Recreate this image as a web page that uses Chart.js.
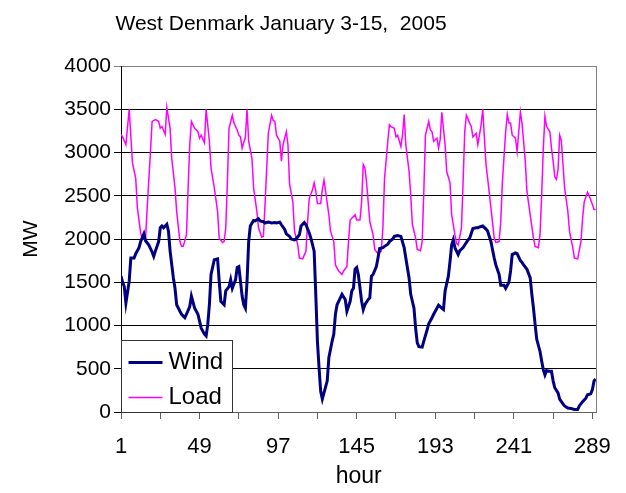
<!DOCTYPE html>
<html>
<head>
<meta charset="utf-8">
<title>West Denmark January 3-15, 2005</title>
<script src="https://cdn.jsdelivr.net/npm/chart.js@4/dist/chart.umd.min.js"></script>
<style>
  html, body { margin: 0; padding: 0; background: #fff; }
  canvas { display: block; }
</style>
</head>
<body>
<canvas id="chart" width="626" height="493"></canvas>
<script>
const chartTitle = "West Denmark January 3-15,  2005";
const xTickHours = [1, 25, 49, 73, 97, 121, 145, 169, 193, 217, 241, 265, 289];
const xLabelHours = [1, 49, 97, 145, 193, 241, 289];

// wind production (hour, MW)
const windHours = [1, 2, 3, 4, 6, 7, 9, 10, 12, 13, 15, 16, 18, 20, 21, 22, 24, 25, 26, 27,
  29, 30, 31, 33, 34, 35, 37, 38, 40, 41, 43, 44, 46, 48, 49, 50, 52, 53, 54, 55,
  56, 58, 60, 61, 62, 64, 65, 67, 68, 69, 71, 72, 73, 75, 76, 77, 78, 79, 80, 82,
  83, 85, 86, 88, 89, 91, 93, 95, 96, 98, 99, 101, 102, 104, 105, 107, 108, 110, 111, 113,
  114, 116, 117, 119, 120, 121, 122, 123, 124, 125, 127, 128, 130, 131, 132, 133, 135, 136, 138, 139,
  141, 142, 143, 144, 145, 146, 148, 149, 150, 152, 153, 154, 155, 157, 158, 159, 161, 162, 164, 165,
  167, 168, 170, 172, 174, 175, 177, 178, 180, 181, 182, 183, 185, 186, 188, 189, 191, 192, 194, 195,
  197, 198, 199, 201, 202, 203, 204, 205, 207, 208, 210, 211, 213, 214, 216, 218, 219, 221, 222, 224,
  225, 227, 229, 230, 232, 233, 235, 236, 238, 239, 240, 242, 243, 245, 246, 247, 249, 251, 252, 253,
  254, 255, 257, 258, 259, 260, 261, 263, 264, 265, 266, 268, 269, 271, 272, 274, 276, 278, 280, 281,
  283, 285, 286, 288, 289, 290, 291];
const windMW = [1570, 1500, 1450, 1260, 1510, 1780, 1780, 1830, 1900, 1970, 2060, 1980, 1930, 1850, 1800, 1860, 1970, 2130, 2150, 2130,
  2170, 2090, 1860, 1550, 1430, 1240, 1165, 1130, 1090, 1130, 1220, 1340, 1200, 1130, 1050, 970, 900, 880, 1010, 1240,
  1590, 1760, 1770, 1510, 1280, 1240, 1400, 1450, 1530, 1430, 1530, 1670, 1680, 1340, 1240, 1200, 1510, 1970, 2150, 2215,
  2210, 2234, 2210, 2200, 2185, 2195, 2185, 2190, 2185, 2195, 2165, 2110, 2060, 2030, 2000, 1990, 2000, 2050, 2150, 2190,
  2165, 2070, 2010, 1860, 1360, 820, 510, 240, 150, 220, 360, 630, 820, 900, 1130, 1240, 1320, 1360, 1300, 1165,
  1280, 1400, 1430, 1650, 1670, 1590, 1280, 1184, 1240, 1300, 1320, 1570, 1590, 1680, 1780, 1890, 1900, 1915, 1940, 1970,
  2000, 2030, 2040, 2030, 1900, 1780, 1550, 1360, 1200, 970, 800, 755, 750, 820, 950, 1020, 1090, 1130, 1200, 1235,
  1200, 1185, 1400, 1570, 1740, 1930, 1990, 1900, 1820, 1865, 1900, 1930, 1990, 2010, 2120, 2130, 2130, 2145, 2150, 2115,
  2090, 1970, 1780, 1700, 1590, 1465, 1465, 1430, 1500, 1630, 1820, 1840, 1830, 1750, 1730, 1700, 1650, 1550, 1360, 1200,
  1010, 840, 700, 590, 490, 430, 480, 470, 470, 360, 280, 220, 150, 95, 70, 45, 40, 30, 30, 70,
  120, 160, 200, 210, 260, 360, 380];

// load (hour, MW)
const loadHours = [1, 2, 4, 6, 8, 10, 11, 13, 14, 16, 17, 19, 20, 22, 24, 25, 26, 28, 29, 31,
  32, 34, 35, 37, 38, 39, 41, 42, 43, 44, 46, 48, 49, 50, 52, 53, 55, 56, 58, 60,
  61, 63, 64, 65, 66, 67, 69, 70, 72, 73, 74, 75, 77, 78, 79, 81, 82, 84, 85, 87,
  88, 89, 91, 93, 94, 95, 96, 98, 99, 100, 102, 103, 104, 106, 107, 109, 110, 112, 114, 115,
  116, 118, 119, 120, 121, 123, 124, 125, 126, 128, 129, 131, 132, 134, 136, 137, 139, 140, 141, 143,
  144, 145, 147, 148, 149, 150, 151, 152, 153, 155, 156, 158, 160, 161, 162, 164, 165, 166, 168, 169,
  170, 172, 173, 174, 175, 177, 178, 179, 181, 182, 184, 185, 186, 187, 189, 190, 191, 192, 194, 195,
  196, 197, 199, 200, 202, 203, 205, 206, 207, 209, 210, 211, 212, 214, 215, 216, 218, 219, 221, 222,
  224, 225, 227, 229, 230, 232, 233, 234, 236, 237, 238, 239, 240, 242, 243, 244, 245, 246, 248, 249,
  251, 253, 254, 256, 257, 258, 259, 260, 261, 263, 264, 265, 266, 267, 268, 269, 270, 271, 272, 274,
  275, 277, 278, 280, 282, 283, 284, 286, 287, 289, 290, 291];
const loadMW = [3210, 3180, 3090, 3500, 2880, 2700, 2360, 2070, 2000, 2010, 2360, 3010, 3360, 3380, 3360, 3280, 3300, 3210, 3520, 3280,
  2930, 2590, 2320, 1970, 1915, 1915, 2050, 2590, 3090, 3360, 3280, 3240, 3165, 3200, 3110, 3500, 3130, 2820, 2590, 2320,
  2010, 1960, 1970, 2130, 2660, 3280, 3430, 3340, 3260, 3200, 3180, 3050, 3180, 3500, 3130, 2930, 2590, 2320, 2130, 2020,
  2030, 2400, 3220, 3430, 3370, 3360, 3200, 3130, 2900, 3090, 3240, 3090, 2630, 2430, 2090, 1930, 1780, 1770, 1860, 2200,
  2470, 2570, 2650, 2550, 2410, 2410, 2570, 2680, 2550, 2280, 2090, 1970, 1700, 1630, 1590, 1630, 1680, 1970, 2220, 2260,
  2280, 2220, 2220, 2430, 2860, 2820, 2660, 2430, 2200, 2050, 1880, 1830, 1860, 2130, 2700, 3130, 3320, 3300, 3280, 3180,
  3200, 3070, 3200, 3440, 3090, 2780, 2510, 2170, 2010, 1880, 1865, 1970, 2550, 3200, 3360, 3260, 3240, 3130, 3165, 3050,
  3150, 3465, 3090, 2780, 2650, 2280, 2050, 1950, 1930, 2130, 2660, 3240, 3430, 3340, 3300, 3180, 3220, 3090, 3320, 3500,
  2860, 2700, 2360, 2010, 1960, 1970, 2200, 2660, 3240, 3440, 3340, 3340, 3200, 3165, 3010, 3240, 3470, 3340, 2900, 2550,
  2280, 2010, 1915, 1900, 2050, 2510, 3050, 3420, 3300, 3240, 3050, 2900, 2720, 2690, 2800, 3200, 3140, 2870, 2590, 2320,
  2090, 1900, 1780, 1770, 1970, 2240, 2430, 2540, 2500, 2400, 2340, 2340];

const FONT = "'Liberation Sans', Arial, sans-serif";

const toPoints = (hours, values) => hours.map((h, i) => ({ x: h, y: values[i] }));

// title, plot frame and the boxed legend, drawn like the Excel original
const decorations = {
  id: "decorations",
  afterDraw(chart) {
    const ctx = chart.ctx;
    const area = chart.chartArea;
    ctx.save();

    ctx.fillStyle = "#000";
    ctx.font = "21px " + FONT;
    ctx.textAlign = "center";
    ctx.textBaseline = "alphabetic";
    ctx.fillText(chartTitle, 281, 30);

    ctx.strokeStyle = "#808080";
    ctx.lineWidth = 1;
    ctx.beginPath();
    ctx.moveTo(Math.round(area.right) + 0.5, area.top);
    ctx.lineTo(Math.round(area.right) + 0.5, area.bottom);
    ctx.stroke();

    // legend
    const bx = area.left + 0.5, bw = 111, bh = 72;
    const by = area.bottom - bh + 0.5;
    ctx.fillStyle = "#fff";
    ctx.fillRect(bx, by, bw, bh);
    ctx.strokeStyle = "#333";
    ctx.strokeRect(bx, by, bw, bh);
    ctx.font = "24px " + FONT;
    ctx.textAlign = "left";
    chart.data.datasets.forEach((ds, i) => {
      const y = by + 22 + i * 35;
      ctx.strokeStyle = ds.borderColor;
      ctx.lineWidth = ds.borderWidth;
      ctx.beginPath();
      ctx.moveTo(bx + 7, y);
      ctx.lineTo(bx + 41, y);
      ctx.stroke();
      ctx.fillStyle = "#000";
      ctx.fillText(ds.label, bx + 47, y + 6);
    });
    ctx.restore();
  }
};

new Chart(document.getElementById("chart"), {
  type: "line",
  data: {
    datasets: [
      {
        label: "Wind",
        data: toPoints(windHours, windMW),
        borderColor: "#000080",
        borderWidth: 3,
        pointRadius: 0,
        tension: 0
      },
      {
        label: "Load",
        data: toPoints(loadHours, loadMW),
        borderColor: "#ff00ff",
        borderWidth: 1.5,
        pointRadius: 0,
        tension: 0
      }
    ]
  },
  options: {
    responsive: false,
    animation: false,
    devicePixelRatio: 1,
    layout: { padding: { top: 66, right: 29, left: 0, bottom: 0 } },
    plugins: {
      legend: { display: false },
      title: { display: false },
      tooltip: { enabled: false }
    },
    scales: {
      x: {
        type: "linear",
        min: 1,
        max: 291.4,
        afterFit: (scale) => { scale.height = 81; },
        afterBuildTicks: (scale) => { scale.ticks = xTickHours.map(v => ({ value: v })); },
        grid: { drawOnChartArea: false, color: "#606060", tickLength: 7 },
        border: { color: "#606060", width: 1 },
        ticks: {
          autoSkip: false,
          maxRotation: 0,
          padding: 15,
          color: "#000",
          font: { family: FONT, size: 22 },
          callback: (v) => xLabelHours.includes(v) ? String(v) : ""
        },
        title: {
          display: true,
          text: "hour",
          color: "#000",
          font: { family: FONT, size: 23 },
          padding: { top: 0, bottom: 3 }
        }
      },
      y: {
        min: 0,
        max: 4000,
        afterFit: (scale) => { scale.width = 121; },
        grid: {
          color: (c) => c.tick && c.tick.value === 4000 ? "#808080" : "#000",
          tickLength: 7
        },
        border: { color: "#000", width: 1 },
        ticks: {
          stepSize: 500,
          padding: 3,
          color: "#000",
          font: { family: FONT, size: 21 },
          callback: (v) => String(v)
        },
        title: {
          display: true,
          text: "MW",
          color: "#000",
          font: { family: FONT, size: 21 },
          padding: { top: 19, bottom: 0 }
        }
      }
    }
  },
  plugins: [decorations]
});
</script>
</body>
</html>
